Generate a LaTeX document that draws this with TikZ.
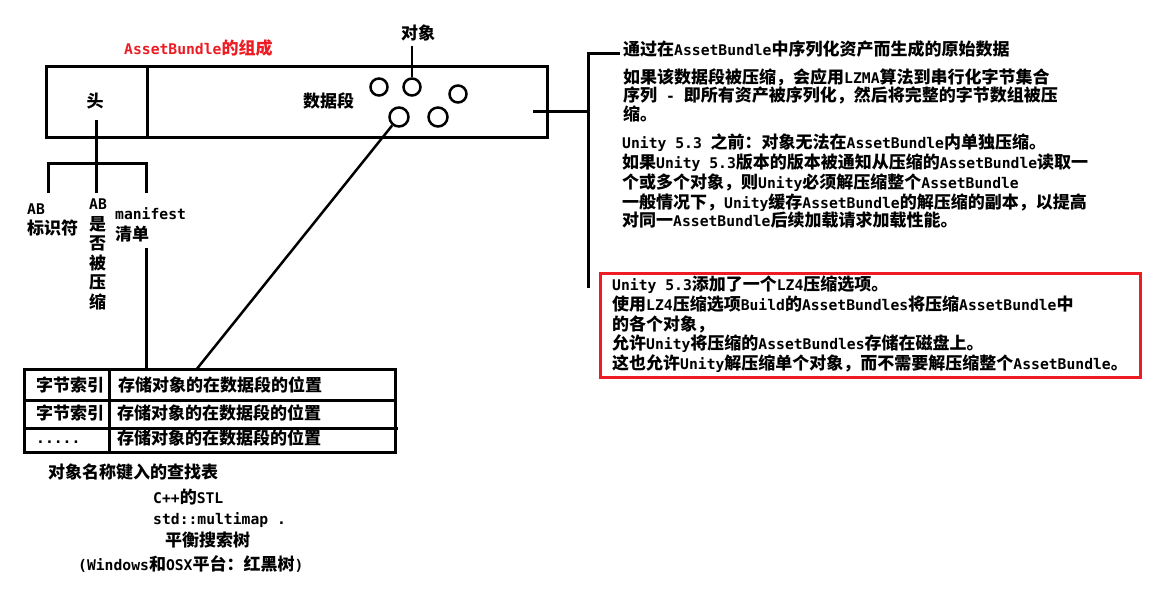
\documentclass[tikz,border=0pt]{standalone}
\usepackage{fontspec}
\setmainfont{DejaVu Sans Mono}
\newfontfamily\latfont{DejaVu Sans Mono}
\newfontfamily\cjkfont{Noto Sans CJK SC}[Scale=1.1565]
\newcount\cjkc
\def\setcjkrange#1#2{\cjkc=#1 \loop \XeTeXcharclass\cjkc=7 \ifnum\cjkc<#2 \advance\cjkc by 1 \repeat}
\setcjkrange{"3000}{"303F}
\setcjkrange{"4E00}{"9FFF}
\setcjkrange{"FF00}{"FFEF}
\XeTeXinterchartoks 0 7 = {\cjkfont}
\XeTeXinterchartoks 4095 7 = {\cjkfont}
\XeTeXinterchartoks 7 0 = {\latfont}
\XeTeXinterchartoks 7 4095 = {\latfont}
\XeTeXinterchartokenstate=1
\definecolor{myred}{RGB}{237,28,36}
\begin{document}
\begin{tikzpicture}[x=1pt,y=-1pt,
  ln/.style={line width=3pt},
  thinln/.style={line width=2.5pt},
  txt/.style={anchor=base west,inner sep=0pt,yshift=-6pt,font=\fontsize{14.7pt}{18pt}\selectfont\bfseries},
  ctxt/.style={anchor=base,inner sep=0pt,yshift=-6pt,font=\fontsize{14.7pt}{18pt}\selectfont\bfseries},
  obj/.style={circle,draw,line width=2.5pt,inner sep=0pt},
  part/.style={draw,ln,inner sep=0pt,minimum height=70pt}
]
\fill[white] (0,0) rectangle (1170,602);
\useasboundingbox (0,0) rectangle (1170,602);

% title
\node[txt,text=myred] (title) at (124,49) {AssetBundle的组成};

% main bundle box
\node[part,minimum width=101pt] (head) at (96.5,102) {};
\node[part,minimum width=400pt] (data) at (347,102) {};
\node[ctxt] (headlbl) at (95,101) {头};
\node[txt] (datalbl) at (303,101) {数据段};

% objects
\node[ctxt] (objlbl) at (418,34) {对象};
\node[obj,minimum size=17pt] (c1) at (379,87) {};
\node[obj,minimum size=17pt] (c2) at (412,87) {};
\node[obj,minimum size=17pt] (c3) at (458,94) {};
\node[obj,minimum size=19pt] (c4) at (399,117) {};
\node[obj,minimum size=19pt] (c5) at (438,117) {};
\coordinate (objtop) at (412,46);
\draw[thinln] (objtop) -- (c2.north);

% header bracket
\coordinate (hl) at (96,120);
\coordinate (hb) at (96,193);
\coordinate (bL) at (48,193);
\coordinate (bLt) at (48,163);
\coordinate (bRt) at (146,163);
\coordinate (bR) at (146,193);
\draw[ln] (hl) -- (hb);
\draw[ln] (bL) -- (bLt) -- (bRt) -- (bR);

\node[txt] (ab1) at (27,208) {AB};
\node[txt] (ab1b) at (27,228) {标识符};
\node[txt] (ab2) at (89,203) {AB};
\node[txt] (ab2a) at (89,224) {是};
\node[txt] (ab2b) at (89,243.5) {否};
\node[txt] (ab2c) at (89,263) {被};
\node[txt] (ab2d) at (89,282.5) {压};
\node[txt] (ab2e) at (89,302) {缩};
\node[txt] (man) at (115,213) {manifest};
\node[txt] (man2) at (115,234) {清单};

% table
\coordinate (mtop) at (146,248);
\coordinate (mbot) at (146,369);
\draw[ln] (mtop) -- (mbot);
\draw[ln] (24,369) rectangle (395,452);
\draw[ln] (24,400) -- (395,400);
\draw[ln] (24,428) -- (398,428);
\draw[ln] (109,369) -- (109,452);
\coordinate (tabhit) at (196,370);
\draw[thinln] (c4.231) -- (tabhit);

\node[txt] (k1) at (36,385) {字节索引};
\node[txt] (k2) at (36,413) {字节索引};
\node[txt] (k3) at (36,437) {.....};
\node[txt] (v1) at (118,385) {存储对象的在数据段的位置};
\node[txt] (v2) at (117,413) {存储对象的在数据段的位置};
\node[txt] (v3) at (117,438) {存储对象的在数据段的位置};

\node[txt] (b1) at (48,472) {对象名称键入的查找表};
\node[txt] (b2) at (153,497) {C++的STL};
\node[txt] (b3) at (153,518) {std::multimap .};
\node[txt] (b4) at (165,540) {平衡搜索树};
\node[txt] (b5) at (78,564) {(Windows和OSX平台：红黑树)};

% right bracket
\coordinate (rb1) at (533,111);
\coordinate (rb2) at (588,111);
\coordinate (rbT) at (588,54);
\coordinate (rbB) at (588,288);
\coordinate (rbE) at (620,54);
\draw[ln] (rb1) -- (rb2);
\draw[ln] (rbB) -- (rbT) -- (rbE);

\node[txt] (r1) at (623,50) {通过在AssetBundle中序列化资产而生成的原始数据};
\node[txt] (r2) at (623,77) {如果该数据段被压缩，会应用LZMA算法到串行化字节集合};
\node[txt] (r3) at (623,96) {序列 - 即所有资产被序列化，然后将完整的字节数组被压};
\node[txt] (r4) at (623,115) {缩。};
\node[txt] (r5) at (622,142) {Unity 5.3 之前：对象无法在AssetBundle内单独压缩。};
\node[txt] (r6) at (622,162) {如果Unity 5.3版本的版本被通知从压缩的AssetBundle读取一};
\node[txt] (r7) at (622,182) {个或多个对象，则Unity必须解压缩整个AssetBundle};
\node[txt] (r8) at (622,202) {一般情况下，Unity缓存AssetBundle的解压缩的副本，以提高};
\node[txt] (r9) at (622,220) {对同一AssetBundle后续加载请求加载性能。};

% red box
\draw[line width=3pt,draw=myred] (600,273) rectangle (1140,377);
\node[txt] (n1) at (612,284) {Unity 5.3添加了一个LZ4压缩选项。};
\node[txt] (n2) at (612,304) {使用LZ4压缩选项Build的AssetBundles将压缩AssetBundle中};
\node[txt] (n3) at (612,324) {的各个对象，};
\node[txt] (n4) at (612,343) {允许Unity将压缩的AssetBundles存储在磁盘上。};
\node[txt] (n5) at (612,363) {这也允许Unity解压缩单个对象，而不需要解压缩整个AssetBundle。};
\end{tikzpicture}
\end{document}
